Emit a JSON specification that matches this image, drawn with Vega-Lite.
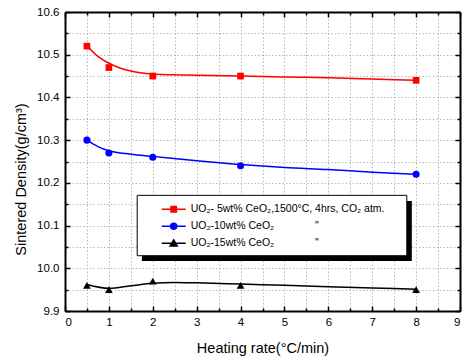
{
  "$schema": "https://vega.github.io/schema/vega-lite/v6.json",
  "width": 395,
  "height": 299,
  "autosize": {"type": "none"},
  "padding": {"left": 65, "top": 12, "right": 2, "bottom": 52},
  "background": "white",
  "config": {
    "view": {"stroke": null},
    "font": "Liberation Sans",
    "axis": {
      "domainColor": "#000",
      "tickColor": "#000",
      "labelColor": "#000",
      "titleColor": "#000",
      "domainWidth": 2,
      "tickWidth": 1.5,
      "gridColor": "#b8b8b8",
      "gridDash": [1.5, 2],
      "gridWidth": 1,
      "labelFont": "Liberation Sans",
      "titleFont": "Liberation Sans",
      "labelFontSize": 11.5,
      "titleFontSize": 14.5,
      "titleFontWeight": "normal"
    }
  },
  "datasets": {
    "points": [
      {"series": "5wt", "rate": 0.5, "density": 10.52},
      {"series": "5wt", "rate": 1, "density": 10.47},
      {"series": "5wt", "rate": 2, "density": 10.45},
      {"series": "5wt", "rate": 4, "density": 10.45},
      {"series": "5wt", "rate": 8, "density": 10.44},
      {"series": "10wt", "rate": 0.5, "density": 10.30},
      {"series": "10wt", "rate": 1, "density": 10.27},
      {"series": "10wt", "rate": 2, "density": 10.26},
      {"series": "10wt", "rate": 4, "density": 10.24},
      {"series": "10wt", "rate": 8, "density": 10.22},
      {"series": "15wt", "rate": 0.5, "density": 9.96},
      {"series": "15wt", "rate": 1, "density": 9.95},
      {"series": "15wt", "rate": 2, "density": 9.97},
      {"series": "15wt", "rate": 4, "density": 9.96},
      {"series": "15wt", "rate": 8, "density": 9.95}
    ],
    "fit": [
      {"series": "5wt", "rate": 0.5, "density": 10.521},
      {"series": "5wt", "rate": 0.75, "density": 10.496},
      {"series": "5wt", "rate": 1, "density": 10.480},
      {"series": "5wt", "rate": 1.25, "density": 10.469},
      {"series": "5wt", "rate": 1.5, "density": 10.462},
      {"series": "5wt", "rate": 2, "density": 10.455},
      {"series": "5wt", "rate": 2.5, "density": 10.453},
      {"series": "5wt", "rate": 3, "density": 10.452},
      {"series": "5wt", "rate": 4, "density": 10.450},
      {"series": "5wt", "rate": 5, "density": 10.448},
      {"series": "5wt", "rate": 6, "density": 10.446},
      {"series": "5wt", "rate": 7, "density": 10.443},
      {"series": "5wt", "rate": 8, "density": 10.440},
      {"series": "10wt", "rate": 0.5, "density": 10.300},
      {"series": "10wt", "rate": 0.75, "density": 10.285},
      {"series": "10wt", "rate": 1, "density": 10.275},
      {"series": "10wt", "rate": 1.5, "density": 10.267},
      {"series": "10wt", "rate": 2, "density": 10.262},
      {"series": "10wt", "rate": 3, "density": 10.252},
      {"series": "10wt", "rate": 4, "density": 10.243},
      {"series": "10wt", "rate": 5, "density": 10.236},
      {"series": "10wt", "rate": 6, "density": 10.231},
      {"series": "10wt", "rate": 7, "density": 10.225},
      {"series": "10wt", "rate": 8, "density": 10.220},
      {"series": "15wt", "rate": 0.5, "density": 9.962},
      {"series": "15wt", "rate": 1, "density": 9.953},
      {"series": "15wt", "rate": 1.5, "density": 9.959},
      {"series": "15wt", "rate": 2, "density": 9.965},
      {"series": "15wt", "rate": 2.5, "density": 9.967},
      {"series": "15wt", "rate": 3, "density": 9.966},
      {"series": "15wt", "rate": 4, "density": 9.963},
      {"series": "15wt", "rate": 5, "density": 9.960},
      {"series": "15wt", "rate": 6, "density": 9.957},
      {"series": "15wt", "rate": 7, "density": 9.954},
      {"series": "15wt", "rate": 8, "density": 9.951}
    ]
  },
  "layer": [
    {
      "data": {"values": [{}]},
      "mark": {"type": "rect", "color": "#000"},
      "encoding": {
        "x": {"datum": 1.752, "type": "quantitative", "scale": {"domain": [0, 9], "nice": false, "zero": false},
          "axis": {"orient": "top", "values": [0,1,2,3,4,5,6,7,8,9], "labels": false, "tickSize": 5, "offset": -5, "grid": false, "title": null, "domain": false}},
        "x2": {"datum": 7.902},
        "y": {"datum": 10.1575, "type": "quantitative", "scale": {"domain": [9.9, 10.6], "nice": false, "zero": false},
          "axis": {"orient": "right", "values": [9.9,10.0,10.1,10.2,10.3,10.4,10.5,10.6], "labels": false, "tickSize": 5, "offset": -5, "grid": false, "title": null, "domain": false}},
        "y2": {"datum": 10.017}
      }
    },
    {
      "data": {"values": [{}]},
      "mark": {"type": "rect", "fill": "#fff", "stroke": "#000", "strokeWidth": 1},
      "encoding": {
        "x": {"datum": 1.645, "type": "quantitative", "scale": {"domain": [0, 9], "nice": false, "zero": false},
          "axis": {"orient": "top", "values": [0.5,1.5,2.5,3.5,4.5,5.5,6.5,7.5,8.5], "labels": false, "tickSize": 3, "offset": -3, "grid": false, "title": null, "domain": false}},
        "x2": {"datum": 7.788},
        "y": {"datum": 10.1708, "type": "quantitative", "scale": {"domain": [9.9, 10.6], "nice": false, "zero": false},
          "axis": {"orient": "right", "values": [9.95,10.05,10.15,10.25,10.35,10.45,10.55], "labels": false, "tickSize": 3, "offset": -3, "grid": false, "title": null, "domain": false}},
        "y2": {"datum": 10.0294}
      }
    },
    {
      "data": {"name": "fit"},
      "mark": {"type": "line", "strokeWidth": 1.5, "interpolate": "monotone"},
      "encoding": {
        "x": {"field": "rate", "type": "quantitative", "scale": {"domain": [0, 9], "nice": false, "zero": false},
          "axis": {"orient": "bottom", "values": [0,0.5,1,1.5,2,2.5,3,3.5,4,4.5,5,5.5,6,6.5,7,7.5,8,8.5,9],
            "labelExpr": "datum.value % 1 === 0 ? format(datum.value, 'd') : ''",
            "ticks": false, "labelPadding": 5, "grid": true, "domain": true,
            "title": "Heating rate(°C/min)", "titleX": 197.5, "titleY": 41.7, "titleBaseline": "alphabetic", "titleAnchor": "middle", "titleAlign": "center"}},
        "y": {"field": "density", "type": "quantitative", "scale": {"domain": [9.9, 10.6], "nice": false, "zero": false},
          "axis": {"orient": "left", "values": [9.9,9.95,10.0,10.05,10.1,10.15,10.2,10.25,10.3,10.35,10.4,10.45,10.5,10.55,10.6],
            "labelExpr": "abs(datum.value * 10 - round(datum.value * 10)) < 0.01 ? format(datum.value, '.1f') : ''",
            "ticks": false, "labelPadding": 6, "grid": true, "domain": true,
            "title": "Sintered Density(g/cm³)", "titleX": -40, "titleY": 167, "titleAngle": 270, "titleBaseline": "alphabetic", "titleAlign": "center"}},
        "color": {"field": "series", "type": "nominal",
          "scale": {"domain": ["5wt", "10wt", "15wt"], "range": ["#ff0000", "#0000ff", "#000000"]},
          "legend": {
            "orient": "none", "legendX": 101.7, "legendY": 190.3, "title": null, "padding": 0,
            "symbolSize": 144, "labelOffset": 10, "rowPadding": 4, "labelFontSize": 10.5, "labelFont": "Liberation Sans",
            "labelColor": "#000", "labelLimit": 0, "symbolStrokeWidth": 1.5,
            "labelExpr": "datum.value === '5wt' ? 'UO₂- 5wt% CeO₂,1500°C, 4hrs, CO₂ atm.' : datum.value === '10wt' ? 'UO₂-10wt% CeO₂\u00a0\u00a0\u00a0\u00a0\u00a0\u00a0\u00a0\u00a0\u00a0\u00a0\u00a0\u00a0\u00a0\u00a0\"' : 'UO₂-15wt% CeO₂\u00a0\u00a0\u00a0\u00a0\u00a0\u00a0\u00a0\u00a0\u00a0\u00a0\u00a0\u00a0\u00a0\u00a0\"'",
            "encode": {"symbols": {"update": {
              "shape": {"signal": "datum.value === '5wt' ? 'M-2,0H2M-0.45,-0.45H0.45V0.45H-0.45Z' : datum.value === '10wt' ? 'M-2,0H2M-0.5,0A0.5,0.5 0 1,0 0.5,0A0.5,0.5 0 1,0 -0.5,0Z' : 'M-2,0H2M0,-0.55L0.6,0.45H-0.6Z'"},
              "fill": {"scale": "color", "field": "value"},
              "stroke": {"scale": "color", "field": "value"},
              "strokeWidth": {"value": 1.5},
              "opacity": {"value": 1}
            }}}
          }}
      }
    },
    {
      "data": {"name": "points"},
      "transform": [{"filter": "datum.series === '5wt'"}],
      "mark": {"type": "point", "filled": true, "opacity": 1, "size": 45, "shape": "square", "color": "#ff0000"},
      "encoding": {
        "x": {"field": "rate", "type": "quantitative", "scale": {"domain": [0, 9], "nice": false, "zero": false},
          "axis": {"orient": "bottom", "values": [0,1,2,3,4,5,6,7,8,9], "tickSize": 5, "offset": -5, "labels": false, "grid": false, "domain": false, "title": null}},
        "y": {"field": "density", "type": "quantitative", "scale": {"domain": [9.9, 10.6], "nice": false, "zero": false},
          "axis": {"orient": "left", "values": [9.9,10.0,10.1,10.2,10.3,10.4,10.5,10.6], "tickSize": 5, "offset": -5, "labels": false, "grid": false, "domain": false, "title": null}}
      }
    },
    {
      "data": {"name": "points"},
      "transform": [{"filter": "datum.series === '10wt'"}],
      "mark": {"type": "point", "filled": true, "opacity": 1, "size": 50, "shape": "circle", "color": "#0000ff"},
      "encoding": {
        "x": {"field": "rate", "type": "quantitative", "scale": {"domain": [0, 9], "nice": false, "zero": false},
          "axis": {"orient": "bottom", "values": [0.5,1.5,2.5,3.5,4.5,5.5,6.5,7.5,8.5], "tickSize": 3, "offset": -3, "labels": false, "grid": false, "domain": false, "title": null}},
        "y": {"field": "density", "type": "quantitative", "scale": {"domain": [9.9, 10.6], "nice": false, "zero": false},
          "axis": {"orient": "left", "values": [9.95,10.05,10.15,10.25,10.35,10.45,10.55], "tickSize": 3, "offset": -3, "labels": false, "grid": false, "domain": false, "title": null}}
      }
    },
    {
      "data": {"name": "points"},
      "transform": [{"filter": "datum.series === '15wt'"}],
      "mark": {"type": "point", "filled": true, "opacity": 1, "size": 60, "shape": "triangle-up", "color": "#000000"},
      "encoding": {
        "x": {"field": "rate", "type": "quantitative", "scale": {"domain": [0, 9], "nice": false, "zero": false},
          "axis": {"orient": "top", "ticks": false, "labels": false, "grid": false, "domain": true, "title": null}},
        "y": {"field": "density", "type": "quantitative", "scale": {"domain": [9.9, 10.6], "nice": false, "zero": false},
          "axis": {"orient": "right", "ticks": false, "labels": false, "grid": false, "domain": true, "title": null}}
      }
    }
  ],
  "resolve": {"axis": {"x": "independent", "y": "independent"}}
}
